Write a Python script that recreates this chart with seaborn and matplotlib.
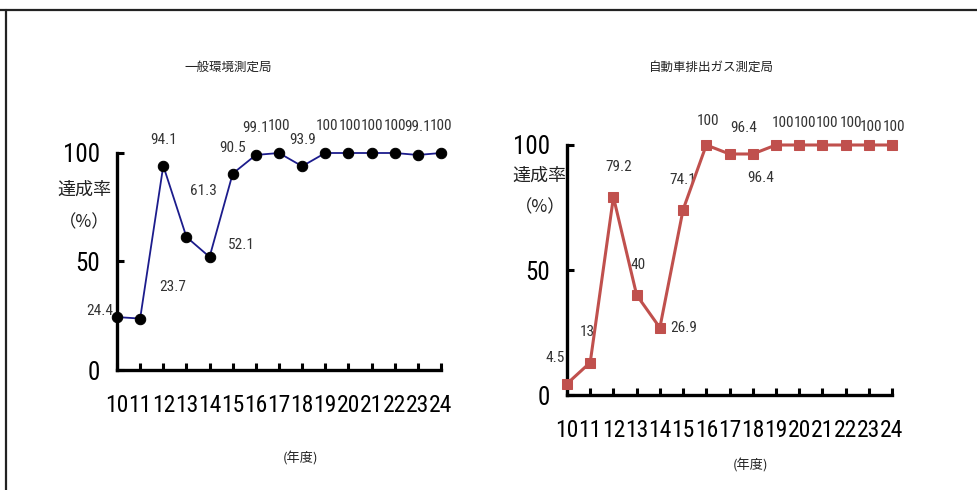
import matplotlib
matplotlib.use("Agg")
import matplotlib.pyplot as plt
from matplotlib import font_manager
from matplotlib.lines import Line2D
import seaborn as sns
import pandas as pd

# ---------------- data ----------------
years = [10, 11, 12, 13, 14, 15, 16, 17, 18, 19, 20, 21, 22, 23, 24]
general_values = [24.4, 23.7, 94.1, 61.3, 52.1, 90.5, 99.1, 100, 93.9, 100, 100, 100, 100, 99.1, 100]
general_labels = ["24.4", "23.7", "94.1", "61.3", "52.1", "90.5", "99.1", "100", "93.9",
                  "100", "100", "100", "100", "99.1", "100"]
roadside_values = [4.5, 13, 79.2, 40, 26.9, 74.1, 100, 96.4, 96.4, 100, 100, 100, 100, 100, 100]
roadside_labels = ["4.5", "13", "79.2", "40", "26.9", "74.1", "100", "96.4", "96.4",
                   "100", "100", "100", "100", "100", "100"]
general_title = "一般環境測定局"
roadside_title = "自動車排出ガス測定局"
y_ticks = [0, 50, 100]
y_label_line1 = "達成率"
y_label_line2 = "（%）"
x_label = "(年度)"

# label placement (pixel offsets from each point)
general_offsets = [(-17, 6), (33, 32), (0, 26), (17, 46), (32, 12), (0, 26), (0, 27), (0, 27),
                   (0, 26), (2, 27), (2, 27), (0, 27), (0, 27), (0, 28), (0, 27)]
roadside_offsets = [(-12, 26), (-3, 30), (5, 30), (1, 30), (24, 0), (0, 30), (2, 24), (14, 26),
                    (8, -24), (7, 22), (6, 22), (5, 22), (5, 22), (2, 18), (2, 18)]

# ---------------- fonts ----------------
available = {f.name for f in font_manager.fontManager.ttflist}
def pick(cands):
    for c in cands:
        if c in available:
            return c
    return "DejaVu Sans"

NARROW = pick(["Liberation Sans Narrow", "DejaVu Sans Condensed", "Roboto Condensed",
               "Liberation Sans", "DejaVu Sans"])
CJK = pick(["Noto Sans CJK JP", "Noto Sans CJK SC"])

sns.set_style("white")
plt.rcParams["font.family"] = [NARROW, CJK, "DejaVu Sans"]

fig = plt.figure(figsize=(9.77, 4.9), dpi=100)
W, H = 977.0, 490.0

def fx(px):
    return px / W

def fy(py):
    return 1 - py / H

ax1 = fig.add_axes([fx(117), fy(370), fx(441) - fx(117), fy(153) - fy(370)])
ax2 = fig.add_axes([fx(567), fy(395), fx(892) - fx(567), fy(145) - fy(395)])

df1 = pd.DataFrame({"year": years, "value": general_values})
df2 = pd.DataFrame({"year": years, "value": roadside_values})

sns.lineplot(data=df1, x="year", y="value", ax=ax1, color="#1c1c8c", linewidth=1.3,
             marker="o", markersize=7.5, markerfacecolor="black", markeredgecolor="black",
             clip_on=False, zorder=5)
sns.lineplot(data=df2, x="year", y="value", ax=ax2, color="#c0504d", linewidth=2.2,
             marker="s", markersize=6.5, markerfacecolor="#c0504d", markeredgecolor="#c0504d",
             clip_on=False, zorder=5)

for ax, vals, labels, offs in [(ax1, general_values, general_labels, general_offsets),
                               (ax2, roadside_values, roadside_labels, roadside_offsets)]:
    ax.set_xlim(years[0], years[-1])
    ax.set_ylim(0, 100)
    ax.set_xticks(years)
    ax.set_xticklabels([str(y) for y in years])
    ax.set_yticks(y_ticks)
    ax.set_yticklabels([str(t) for t in y_ticks])
    ax.set_xlabel("")
    ax.set_ylabel("")
    for s in ["top", "right"]:
        ax.spines[s].set_visible(False)
    for s in ["left", "bottom"]:
        ax.spines[s].set_linewidth(2.4)
        ax.spines[s].set_color("black")
        ax.spines[s].set_capstyle("projecting")
    ax.tick_params(axis="x", bottom=True, direction="in", length=5, width=2.2, color="black",
                   pad=17, labelsize=17, labelcolor="black")
    ax.tick_params(axis="y", left=True, direction="in", length=5, width=2.2, color="black",
                   pad=12, labelsize=18, labelcolor="black")
    ax.patch.set_alpha(0)
    for x, v, lab, (dx, dy) in zip(years, vals, labels, offs):
        ax.annotate(lab, (x, v), xytext=(dx, dy), textcoords="offset pixels",
                    ha="center", va="center", fontsize=11, color="#333333",
                    family=[NARROW, "DejaVu Sans"], annotation_clip=False)

# titles, axis captions
fig.text(fx(228), fy(67), general_title, ha="center", va="center", fontsize=9,
         family=[CJK], color="#222222")
fig.text(fx(711), fy(67), roadside_title, ha="center", va="center", fontsize=9,
         family=[CJK], color="#222222")
for (x1, y1), (x2, y2) in [((84, 190), (84, 222)), ((539, 176), (540, 207))]:
    fig.text(fx(x1), fy(y1), y_label_line1, ha="center", va="center", fontsize=13,
             family=[CJK], color="#222222")
    fig.text(fx(x2), fy(y2), y_label_line2, ha="center", va="center", fontsize=12.5,
             family=[CJK], color="#222222")
fig.text(fx(300), fy(458), x_label, ha="center", va="center", fontsize=9.5,
         family=[CJK], color="#222222")
fig.text(fx(750), fy(465), x_label, ha="center", va="center", fontsize=9.5,
         family=[CJK], color="#222222")

# outer frame (top and left edges)
fig.add_artist(Line2D([0, 1], [fy(10), fy(10)], transform=fig.transFigure,
                      color="#222222", linewidth=1.6))
fig.add_artist(Line2D([fx(6), fx(6)], [0, fy(10)], transform=fig.transFigure,
                      color="#222222", linewidth=1.6))

fig.savefig("out.png", dpi=100)
